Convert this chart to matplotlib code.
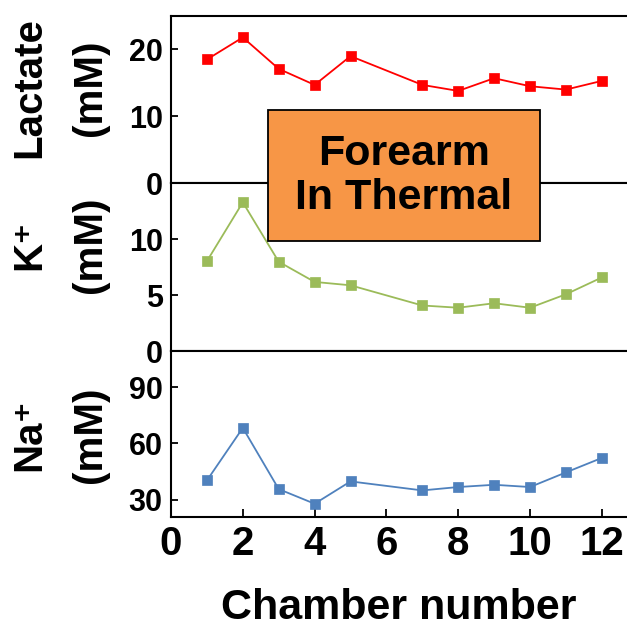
import numpy as np
import matplotlib
matplotlib.use("Agg")
import matplotlib.pyplot as plt
from matplotlib.patches import Rectangle

''' Data '''
chamber = [1, 2, 3, 4, 5, 7, 8, 9, 10, 11, 12]
lactate = [18.5, 21.8, 17.1, 14.7, 19.0, 14.7, 13.8, 15.7, 14.5, 14.0, 15.3]
potassium = [8.05, 13.3, 8.0, 6.2, 5.9, 4.1, 3.9, 4.3, 3.9, 5.1, 6.6]
sodium = [40.3, 68.3, 35.7, 27.9, 39.8, 35.0, 36.8, 38.0, 36.8, 44.6, 52.3]

labels = ["Lactate", "K\u207A", "Na\u207A"]
yticks = [[0, 10, 20], [0, 5, 10], [30, 60, 90]]
ylims = [(0, 25), (0, 15), (21, 109)]
colors = ["#FF0000", "#9BBB59", "#4F81BD"]
series = [lactate, potassium, sodium]

plt.rcParams['font.family'] = ['Liberation Sans', 'DejaVu Sans']
plt.rcParams['font.weight'] = 'bold'

W, H = 627, 632
fig = plt.figure(figsize=(W / 100, H / 100), dpi=100)
gs = fig.add_gridspec(3, 1, height_ratios=[167, 168, 165], hspace=0,
                      left=171 / W, right=1.0, top=1 - 16 / H, bottom=1 - 516.7 / H)

label_y = [88, 245, 435]   # pixel centres of the rotated labels

for i in range(3):
	ax = fig.add_subplot(gs[i])
	ax.plot(chamber, series[i], color=colors[i], lw=1.3, marker='s', ms=6.8,
	        markeredgecolor=colors[i], markeredgewidth=0.5)
	ax.set_xlim(0, 12.7)
	ax.set_ylim(*ylims[i])
	ax.set_yticks(yticks[i])
	ax.spines['right'].set_visible(False)
	for s in ['left', 'top', 'bottom']:
		ax.spines[s].set_linewidth(1.5)
	ax.tick_params(axis='y', direction='in', length=5, width=1.3, labelsize=22, pad=6)
	if i < 2:
		ax.tick_params(axis='x', bottom=False, labelbottom=False)
	else:
		ax.set_xticks(range(0, 13, 2))
		ax.tick_params(axis='x', direction='in', length=6, width=1.3, labelsize=29, pad=6)
		ax.set_xlabel("Chamber number", fontsize=31, fontweight='bold', labelpad=18)

	''' rotated two-line labels '''
	fig.text(29 / W, 1 - label_y[i] / H, labels[i], rotation=90, fontsize=29,
	         fontweight='bold', ha='center', va='center')
	fig.text(90 / W, 1 - label_y[i] / H, "(mM)", rotation=90, fontsize=29,
	         fontweight='bold', ha='center', va='center')

''' Orange box '''
box = Rectangle((268 / W, 1 - 241 / H), 272 / W, 131 / H, transform=fig.transFigure,
                facecolor="#F79646", edgecolor='black', lw=1.3, zorder=5)
fig.patches.append(box)
fig.text(404 / W, 1 - 176 / H, "Forearm\nIn Thermal", fontsize=31, fontweight='bold',
         ha='center', va='center', linespacing=1.15, zorder=6)

fig.savefig("out.png", dpi=100)
